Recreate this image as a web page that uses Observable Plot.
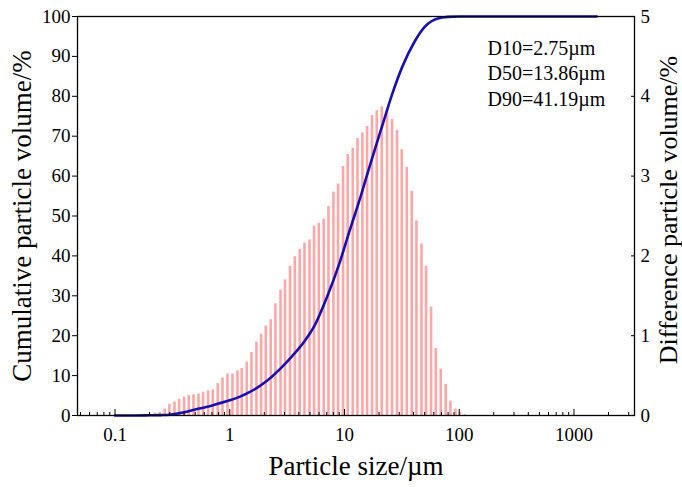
<!DOCTYPE html>
<html><head><meta charset="utf-8">
<script src="https://cdn.jsdelivr.net/npm/d3@7"></script>
<script src="https://cdn.jsdelivr.net/npm/@observablehq/plot@0.6"></script>
<style>body{margin:0;background:#fff}</style>
</head><body><div id="chart"></div>
<script>
// Differential volume bars (size in µm, volume in %)
const binSizes = [0.202,0.223,0.245,0.271,0.298,0.330,0.362,0.400,0.439,0.483,0.534,0.585,0.647,0.711,0.786,0.864,0.955,1.056,1.167,1.272,1.406,1.546,1.709,1.874,2.06,2.276,2.50,2.77,3.03,3.35,3.69,4.07,4.48,4.95,5.43,5.97,6.59,7.25,8.01,8.79,9.71,10.67,11.80,12.97,14.33,15.73,17.38,19.10,21.12,23.49,25.97,28.71,31.55,34.87,38.55,42.37,46.84,51.37,56.8,62.4,69.0,76.2,83.8,92.7,101.6,112.3];
const diffVolume = [0.01,0.03,0.04,0.08,0.14,0.17,0.20,0.23,0.25,0.26,0.27,0.29,0.31,0.32,0.40,0.47,0.52,0.52,0.56,0.59,0.67,0.79,0.92,1.02,1.12,1.20,1.40,1.57,1.70,1.87,1.99,2.08,2.16,2.20,2.37,2.41,2.46,2.62,2.80,2.90,3.12,3.27,3.35,3.47,3.54,3.62,3.76,3.82,3.87,3.83,3.71,3.57,3.33,3.11,2.81,2.44,2.15,1.87,1.36,0.84,0.58,0.39,0.18,0.08,0.04,0.01];
// Cumulative volume curve
const cumSizes = [0.1,0.15,0.2,0.25,0.3,0.4,0.5,0.6,0.8,1.0,1.2,1.5,2.0,2.75,3.5,4.5,5.5,7,9,11,13.86,17,21,26,32,41,50,65,80,100,200,500,1000,1580];
const cumVolume = [0,0,0.05,0.1,0.2,0.8,1.5,2.0,3.0,3.8,4.6,5.9,8.2,11.7,14.9,18.7,22.6,29.5,38,46,55,63.5,72,80.5,87.5,93.8,97.4,99.5,99.9,100,100,100,100,100];
// Ticks and labels
const leftTicks = [0,10,20,30,40,50,60,70,80,90,100];
const rightTicks = [0,1,2,3,4,5];
const xMajorTicks = [0.1,1,10,100,1000];
const xMinorTicks = [0.05,0.06,0.07,0.08,0.09,0.2,0.3,0.4,0.5,0.6,0.7,0.8,0.9,2,3,4,5,6,7,8,9,20,30,40,50,60,70,80,90,200,300,400,500,600,700,800,900,2000,3000];
const annotations = ["D10=2.75µm","D50=13.86µm","D90=41.19µm"];
const xTitle = "Particle size/µm";
const yLeftTitle = "Cumulative particle volume/%";
const yRightTitle = "Difference particle volume/%";

const rightScale = 20; // 5 % on the right axis == 100 % on the left axis
const bars = binSizes.map((s, i) => ({size: s, v: diffVolume[i]}));
const cum = cumSizes.map((s, i) => ({size: s, v: cumVolume[i]}));

const chart = Plot.plot({
  width: 682, height: 487,
  marginLeft: 77, marginRight: 48, marginTop: 16, marginBottom: 72,
  style: {fontFamily: "'Liberation Serif', 'Times New Roman', serif", fontSize: "19px", color: "black", background: "white"},
  x: {type: "log", domain: [0.0471, 3370]},
  y: {domain: [0, 100]},
  marks: [
    Plot.ruleX(bars, {x: "size", y1: 0, y2: d => d.v * rightScale, stroke: "#ffa6a6", strokeWidth: 2.6}),
    Plot.line(cum, {x: "size", y: "v", stroke: "#1410b4", strokeWidth: 2.6, curve: "monotone-x"}),
    Plot.frame({stroke: "black", strokeWidth: 1.3}),
    Plot.axisY({anchor: "left", ticks: leftTicks, tickSize: 5, tickPadding: 2, label: null, fontSize: 19}),
    Plot.axisY({anchor: "right", ticks: rightTicks.map(t => t * rightScale), tickFormat: d => String(d / rightScale), tickSize: -4, tickPadding: 10, label: null, fontSize: 19}),
    Plot.axisX({ticks: xMajorTicks, tickSize: -6, tickPadding: 18, tickFormat: d => String(d), label: null, fontSize: 19}),
    Plot.axisX({ticks: xMinorTicks, tickSize: -3, tickFormat: () => "", label: null}),
    Plot.text([xTitle], {text: d => d, frameAnchor: "bottom", dy: 51, fontSize: 27, lineAnchor: "middle", textAnchor: "middle"}),
    Plot.text([yLeftTitle], {text: d => d, frameAnchor: "left", dx: -55, rotate: -90, fontSize: 27, lineAnchor: "middle", textAnchor: "middle"}),
    Plot.text([yRightTitle], {text: d => d, frameAnchor: "right", dx: 34, dy: -6, rotate: -90, fontSize: 26, lineAnchor: "middle", textAnchor: "middle"}),
    Plot.text([annotations.join("\n")], {text: d => d, frameAnchor: "top-right", dx: -147, dy: 20, textAnchor: "start", lineAnchor: "top", lineHeight: 1.28, fontSize: 20})
  ]
});
document.getElementById("chart").appendChild(chart);
</script>
</body></html>
